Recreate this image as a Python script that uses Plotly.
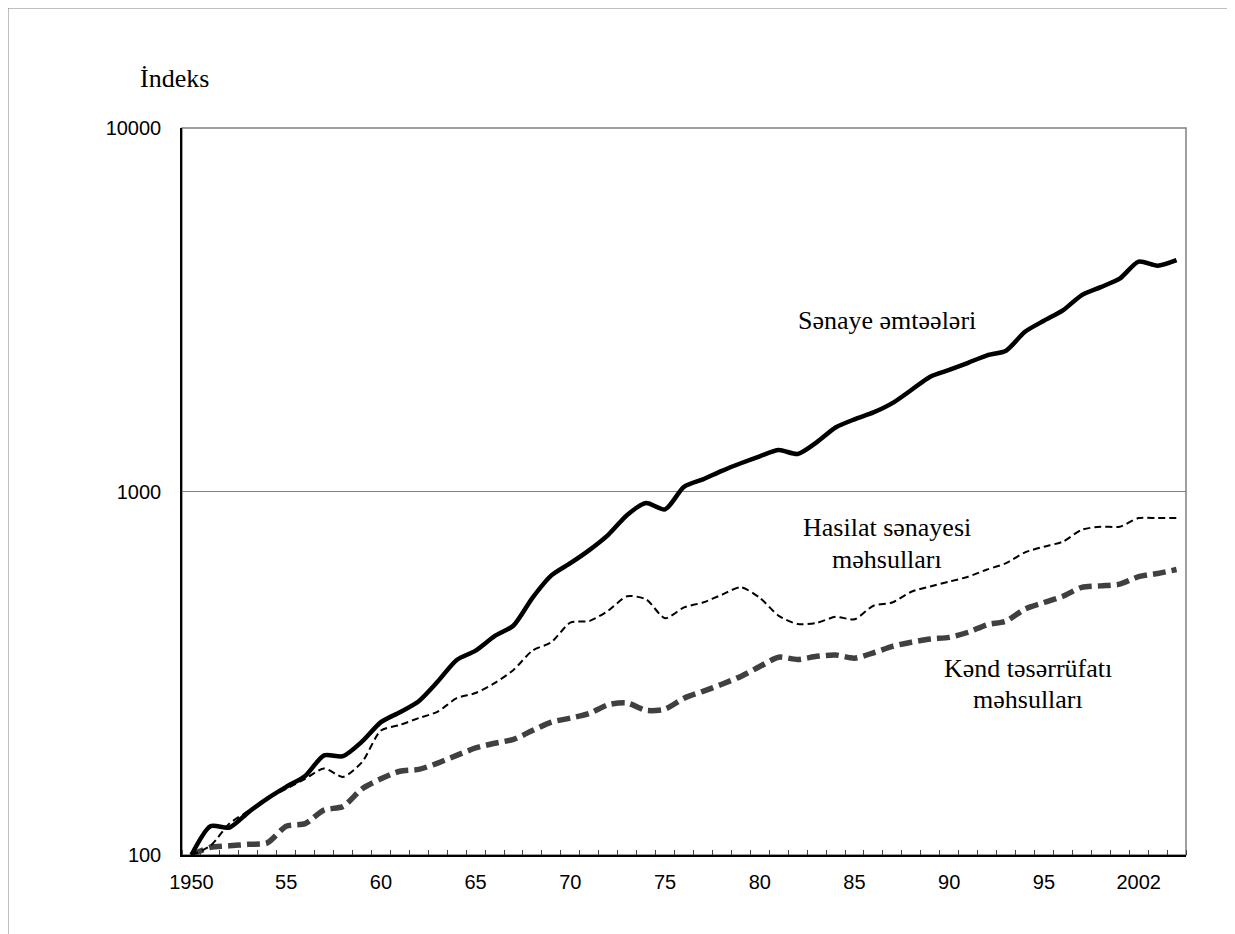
import plotly.graph_objects as go

years = list(range(1950, 2003))

senaye = [100, 120, 119, 131, 143, 154, 165, 188, 187, 205,
          232, 247, 265, 300, 344, 365, 400, 428, 510, 588,
          635, 690, 760, 862, 930, 893, 1030, 1080, 1140, 1196,
          1250, 1300, 1268, 1365, 1500, 1580, 1650, 1750, 1902, 2070,
          2160, 2260, 2370, 2440, 2750, 2950, 3150, 3470, 3650, 3850,
          4290, 4180, 4330]

hasilat = [100, 106, 122, 132, 143, 152, 162, 173, 164, 180,
           220, 228, 238, 248, 270, 279, 297, 323, 365, 385,
           436, 440, 470, 515, 505, 448, 480, 495, 520, 545,
           510, 455, 432, 435, 452, 445, 485, 495, 530, 548,
           565, 583, 610, 635, 680, 705, 728, 785, 800, 800,
           845, 845, 845]

kend = [100, 105, 106, 107, 108, 120, 122, 133, 136, 152,
        162, 170, 172, 179, 188, 197, 203, 208, 220, 232,
        238, 245, 259, 262, 250, 252, 270, 282, 295, 310,
        330, 350, 345, 352, 355, 348, 360, 375, 385, 393,
        397, 410, 430, 440, 475, 495, 515, 545, 550, 556,
        583, 595, 610]

x_tick_vals = [1950, 1955, 1960, 1965, 1970, 1975, 1980, 1985, 1990, 1995, 2000]
x_tick_text = ["1950", "55", "60", "65", "70", "75", "80", "85", "90", "95", "2002"]
y_tick_vals = [100, 1000, 10000]
y_tick_text = ["100", "1000", "10000"]

OFF = 8  # page body margin
W, H = 1227, 926
L, R, T, B = 174, 1178, 120, 847


def px(xs):
    return (xs - OFF - L) / (R - L)


def py(ys):
    return (B - (ys - OFF)) / (B - T)


fig = go.Figure()
fig.add_trace(go.Scatter(x=years, y=kend, mode="lines", name="Kənd təsərrüfatı məhsulları",
                         line=dict(color="#404040", width=5.5, dash="13px,6px", shape="spline", smoothing=0.7)))
fig.add_trace(go.Scatter(x=years, y=hasilat, mode="lines", name="Hasilat sənayesi məhsulları",
                         line=dict(color="#000000", width=2, dash="7px,4px", shape="spline", smoothing=0.7)))
fig.add_trace(go.Scatter(x=years, y=senaye, mode="lines", name="Sənaye əmtəələri",
                         line=dict(color="#000000", width=4.5, shape="spline", smoothing=0.7)))

serif = "Times New Roman, Liberation Serif, serif"
sans = "Arial, Liberation Sans, sans-serif"

annots = [
    ("İndeks", 174, 79),
    ("Sənaye əmtəələri", 887, 320),
    ("Hasilat sənayesi", 887, 527),
    ("məhsulları", 887, 559),
    ("Kənd təsərrüfatı", 1028, 668),
    ("məhsulları", 1028, 699),
]
annotations = [dict(text=t, x=px(xx), y=py(yy), xref="paper", yref="paper",
                    showarrow=False, xanchor="center", yanchor="middle",
                    font=dict(family=serif, size=26, color="#000000"))
               for t, xx, yy in annots]

shapes = [
    dict(type="rect", xref="paper", yref="paper", x0=0, y0=0, x1=1, y1=1,
         line=dict(color="#808080", width=1.5), layer="below"),
    dict(type="rect", xref="paper", yref="paper", x0=px(OFF), y0=py(OFF), x1=px(1300), y1=py(1000),
         line=dict(color="#808080", width=1)),
]

fig.update_layout(
    width=W, height=H,
    margin=dict(l=L, r=W - R, t=T, b=H - B),
    paper_bgcolor="white", plot_bgcolor="white",
    showlegend=False,
    annotations=annotations,
    shapes=shapes,
    xaxis=dict(range=[1949.5, 2002.5], tickmode="array", tickvals=x_tick_vals, ticktext=x_tick_text,
               ticks="", showgrid=False, zeroline=False, showline=True, linecolor="#000000", linewidth=1.5,
               tickfont=dict(family=sans, size=20, color="#000000"), ticklabelstandoff=8,
               minor=dict(tick0=1950.5, dtick=1, ticks="inside", ticklen=5, tickcolor="#404040",
                          tickwidth=1, showgrid=False)),
    yaxis=dict(type="log", range=[2, 4], tickmode="array", tickvals=y_tick_vals, ticktext=y_tick_text,
               ticks="", showgrid=True, gridcolor="#808080", gridwidth=1, zeroline=False,
               showline=True, linecolor="#000000", linewidth=1.5,
               tickfont=dict(family=sans, size=20, color="#000000"), ticklabelstandoff=15),
)

fig.write_html("out.html")
